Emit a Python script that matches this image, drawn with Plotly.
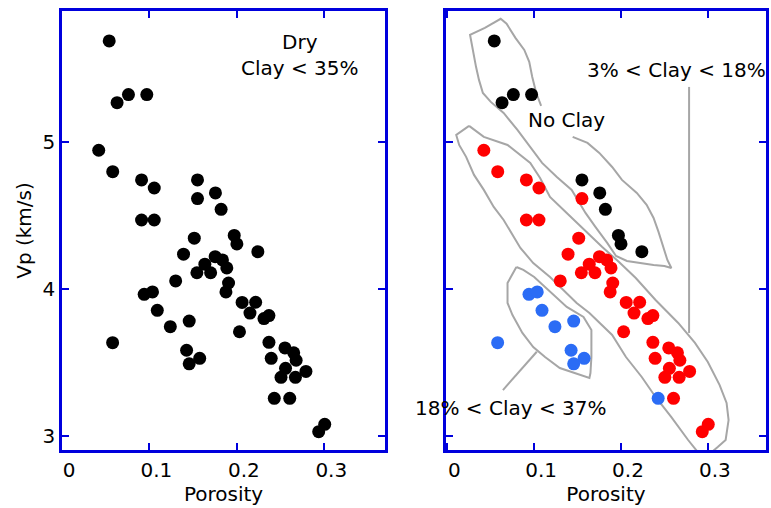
import plotly.graph_objects as go
from plotly.subplots import make_subplots

# ---------------- data ----------------
porosity = [0.054, 0.063, 0.076, 0.097, 0.155, 0.1755, 0.182, 0.197, 0.200, 0.224,
            0.042, 0.058, 0.091, 0.1055, 0.155, 0.091, 0.1055, 0.1513, 0.139, 0.1752,
            0.1835, 0.1634, 0.1885, 0.1700, 0.1543, 0.1300, 0.1905, 0.1875, 0.2060, 0.2215,
            0.2150, 0.2310, 0.2367, 0.2030, 0.2367, 0.2550, 0.2650, 0.2678, 0.2393, 0.2557,
            0.2790, 0.2505, 0.2670, 0.2605, 0.3005, 0.2936,
            0.0940, 0.1035, 0.1090, 0.1239, 0.1455, 0.1425, 0.1575, 0.1455, 0.0579, 0.2428]
vp = [5.69, 5.27, 5.325, 5.325, 4.744, 4.655, 4.544, 4.366, 4.308, 4.255,
      4.946, 4.80, 4.744, 4.689, 4.617, 4.471, 4.471, 4.347, 4.238, 4.221,
      4.199, 4.170, 4.145, 4.112, 4.112, 4.056, 4.042, 3.981, 3.910, 3.911,
      3.837, 3.800, 3.820, 3.710, 3.638, 3.600, 3.567, 3.516, 3.529, 3.461,
      3.440, 3.400, 3.400, 3.257, 3.080, 3.030,
      3.965, 3.981, 3.856, 3.745, 3.783, 3.584, 3.529, 3.492, 3.636, 3.257]
clay_group = ["none"] * 10 + ["low"] * 36 + ["high"] * 10

group_colors = {"none": "#000000", "low": "#ff0000", "high": "#2b6cf5"}

x_ticks = [0, 0.1, 0.2, 0.3]
x_tick_labels = ["0", "0.1", "0.2", "0.3"]
y_ticks = [3, 4, 5]
y_tick_labels = ["3", "4", "5"]

# hand-drawn group outlines (porosity, Vp)
noclay_px = [0.1443, 0.1614, 0.175, 0.1898, 0.2011, 0.2182, 0.2295, 0.2375, 0.2432, 0.2489,
             0.2534, 0.258, 0.25, 0.2375, 0.2205, 0.2068, 0.1943, 0.1841, 0.1705, 0.1591,
             0.1432, 0.1261, 0.1091, 0.0955, 0.0807, 0.0648, 0.05, 0.0409, 0.0364, 0.033,
             0.0295, 0.0261, 0.0432, 0.0614, 0.0682, 0.0784, 0.0886, 0.0943, 0.0977, 0.1023, 0.108]
noclay_vy = [5.037, 4.996, 4.928, 4.832, 4.744, 4.655, 4.574, 4.485, 4.390, 4.281,
             4.199, 4.144, 4.158, 4.165, 4.178, 4.192, 4.226, 4.315, 4.424, 4.519,
             4.676, 4.764, 4.860, 4.969, 5.084, 5.200, 5.275, 5.336, 5.425, 5.514,
             5.629, 5.732, 5.779, 5.841, 5.807, 5.711, 5.629, 5.548, 5.446, 5.337, 5.248]

low_px = [0.025, 0.042, 0.0693, 0.0955, 0.1068, 0.1182, 0.1375, 0.1602, 0.1784, 0.1977,
          0.217, 0.2398, 0.2659, 0.2852, 0.3, 0.3136, 0.3216, 0.3239, 0.3205, 0.3114,
          0.2977, 0.2875, 0.2773, 0.258, 0.2398, 0.2239, 0.2057, 0.1898, 0.1784, 0.1636,
          0.1489, 0.1375, 0.1182, 0.0989, 0.0841, 0.0648, 0.0534, 0.042, 0.0307, 0.0216,
          0.0136, 0.0102, 0.025]
low_vy = [5.112, 5.037, 4.982, 4.860, 4.757, 4.628, 4.519, 4.390, 4.287, 4.185,
          4.076, 3.926, 3.770, 3.634, 3.504, 3.347, 3.225, 3.109, 2.973, 2.925,
          2.857, 2.898, 2.973, 3.129, 3.266, 3.402, 3.538, 3.688, 3.756, 3.838,
          3.906, 3.974, 4.083, 4.178, 4.281, 4.471, 4.560, 4.676, 4.778, 4.901,
          4.982, 5.050, 5.112]

high_px = [0.0795, 0.0693, 0.0693, 0.075, 0.0864, 0.0989, 0.1125, 0.1295, 0.1466, 0.1636,
           0.1648, 0.1659, 0.1659, 0.1568, 0.1375, 0.1182, 0.1, 0.0875, 0.0795]
high_vy = [4.151, 4.042, 3.906, 3.824, 3.702, 3.606, 3.538, 3.463, 3.429, 3.395,
           3.429, 3.538, 3.722, 3.811, 3.879, 3.981, 4.083, 4.131, 4.151]

# leader lines
lead_low_px = [0.2784, 0.2784]
lead_low_vy = [5.377, 3.702]
lead_high_px = [0.103, 0.064]
lead_high_vy = [3.574, 3.313]

# ---------------- figure ----------------
FONT = "DejaVu Sans"
BLUE = "#0000dd"
GRAY = "#a6a6a6"
FS = 20

fig = make_subplots(rows=1, cols=2, horizontal_spacing=0.08)

# left panel: all points black
fig.add_trace(go.Scatter(x=porosity, y=vp, mode="markers",
                         marker=dict(size=13, color="#000000"),
                         showlegend=False, hoverinfo="skip"), row=1, col=1)

# right panel outlines
for xs, ys in [(noclay_px, noclay_vy), (low_px, low_vy), (high_px, high_vy),
               (lead_low_px, lead_low_vy), (lead_high_px, lead_high_vy)]:
    fig.add_trace(go.Scatter(x=xs, y=ys, mode="lines",
                             line=dict(color=GRAY, width=2),
                             showlegend=False, hoverinfo="skip"), row=1, col=2)

# right panel points by clay group
for g in ["none", "low", "high"]:
    xs = [p for p, c in zip(porosity, clay_group) if c == g]
    ys = [v for v, c in zip(vp, clay_group) if c == g]
    fig.add_trace(go.Scatter(x=xs, y=ys, mode="markers",
                             marker=dict(size=13, color=group_colors[g]),
                             showlegend=False, hoverinfo="skip"), row=1, col=2)

axis_common = dict(showline=True, linecolor=BLUE, linewidth=2.5, mirror="ticks",
                   ticks="inside", ticklen=7, tickwidth=2, tickcolor=BLUE,
                   showgrid=False, zeroline=False,
                   tickfont=dict(family=FONT, size=FS, color="black"))

fig.update_xaxes(**axis_common, tickvals=x_ticks, ticktext=x_tick_labels,
                 ticklabelshift=7,
                 title=dict(text="Porosity", font=dict(family=FONT, size=FS, color="black"),
                            standoff=3))
fig.update_xaxes(range=[0, 0.3696], domain=[0, 0.459], row=1, col=1)
fig.update_xaxes(range=[-0.0017, 0.367], domain=[0.5453, 1.0], row=1, col=2)
fig.update_yaxes(**axis_common, range=[2.905, 5.894], tickvals=y_ticks,
                 ticktext=y_tick_labels)
fig.update_yaxes(title=dict(text="Vp (km/s)", font=dict(family=FONT, size=FS, color="black"),
                            standoff=6), row=1, col=1)
fig.update_yaxes(showticklabels=False, row=1, col=2)

fig.update_layout(
    width=771, height=508,
    margin=dict(l=62, r=2, t=11, b=58),
    plot_bgcolor="white", paper_bgcolor="white",
    font=dict(family=FONT, size=FS, color="black"),
)

ann_font = dict(family=FONT, size=FS, color="black")
fig.add_annotation(x=0.272, y=5.595, xref="x", yref="y", text="Dry<br>Clay &lt; 35%",
                   showarrow=False, align="center", font=ann_font)
fig.add_annotation(x=0.1375, y=5.153, xref="x2", yref="y2", text="No Clay",
                   showarrow=False, font=ann_font)
fig.add_annotation(x=0.2636, y=5.493, xref="x2", yref="y2", text="3% &lt; Clay &lt; 18%",
                   showarrow=False, font=ann_font)
fig.add_annotation(x=0.0727, y=3.19, xref="x2", yref="y2", text="18% &lt; Clay &lt; 37%",
                   showarrow=False, font=ann_font)

fig.write_html("out.html")
